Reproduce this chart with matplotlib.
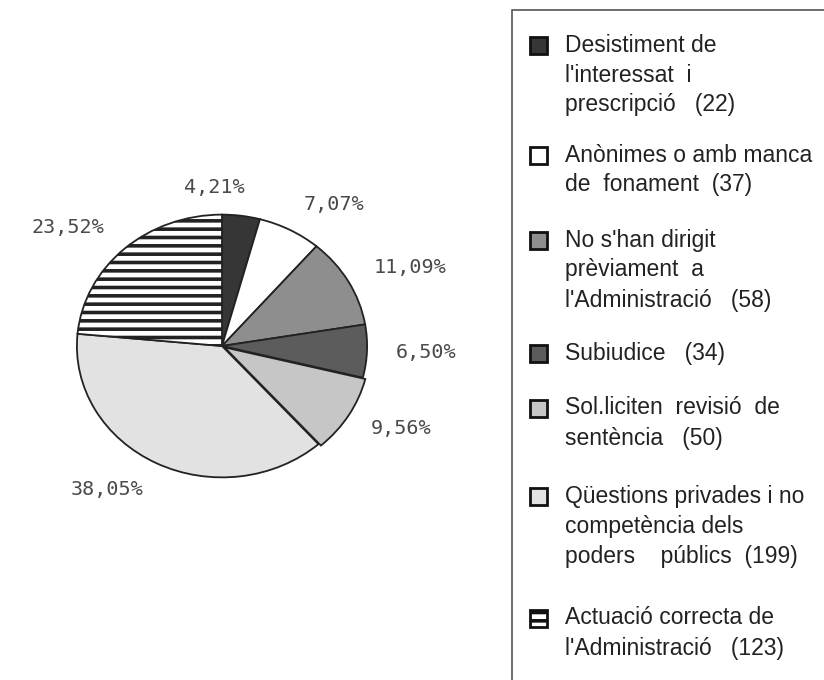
import numpy as np
import matplotlib.pyplot as plt
from matplotlib.patches import Rectangle

plt.rcParams['font.family'] = ['Liberation Sans', 'DejaVu Sans']
plt.rcParams['hatch.linewidth'] = 2.6
plt.rcParams['hatch.color'] = '#1a1a1a'

# shares of the pie (percent), clockwise from the top
shares = [4.21, 7.07, 11.09, 6.50, 9.56, 38.05, 23.52]
share_labels = ["4,21%", "7,07%", "11,09%", "6,50%", "9,56%", "38,05%", "23,52%"]
legend_lines = [
    ["Desistiment de", "l'interessat  i", "prescripció   (22)"],
    ["Anònimes o amb manca", "de  fonament  (37)"],
    ["No s'han dirigit", "prèviament  a", "l'Administració   (58)"],
    ["Subiudice   (34)"],
    ["Sol.liciten  revisió  de", "sentència   (50)"],
    ["Qüestions privades i no", "competència dels", "poders    públics  (199)"],
    ["Actuació correcta de", "l'Administració   (123)"],
]

faces = ['#363636', 'white', '#8e8e8e', '#5c5c5c', '#c6c6c6', '#e2e2e2', 'white']
hatches = [None, None, None, None, None, None, '--']

W, H = 824, 680
fig = plt.figure(figsize=(W / 100, H / 100), dpi=100)

# pie is a bit wider than tall in the scan
cx, cy, rx, ry = 222, 346, 148, 134
ax = fig.add_axes([(cx - rx) / W, 1 - (cy + ry) / H, 2 * rx / W, 2 * ry / H])
wedges, _ = ax.pie(shares, startangle=90, counterclock=False, colors=faces,
                   explode=[0, 0, 0, 0, 0.02, 0, 0],
                   wedgeprops=dict(edgecolor='#222222', linewidth=1.3))
for w, h in zip(wedges, hatches):
    if h:
        w.set_hatch(h)
ax.set_xlim(-1.02, 1.02)
ax.set_ylim(-1.02, 1.02)
ax.set_aspect('auto')
ax.axis('off')

# percentage labels around the pie
cum = np.cumsum([0] + shares[:-1])
for s, c, lab in zip(shares, cum, share_labels):
    ang = np.deg2rad(90 - (c + s / 2) * 3.6)
    x, y = 1.2 * np.cos(ang), 1.22 * np.sin(ang)
    ha = 'left' if np.cos(ang) > 0.3 else 'right'
    ax.text(x, y, lab, ha=ha, va='center', fontsize=14.5, color='#4a4a4a',
            family=['DejaVu Sans Mono'], clip_on=False)

# legend box, running off the right and bottom edges
fig.patches.append(Rectangle((512 / W, -0.05), 0.5, 1 - 10 / H + 0.05,
                             transform=fig.transFigure, fill=False,
                             edgecolor='#555555', linewidth=1.2))

item_tops = [45, 155, 240, 353, 408, 496, 618]
line_step = 30
for top, lines, fc, h in zip(item_tops, legend_lines, faces, hatches):
    sq = Rectangle((530 / W, 1 - (top + 9) / H), 17 / W, 17 / H,
                   transform=fig.transFigure, facecolor=fc, hatch=h,
                   edgecolor='#111111', linewidth=2)
    fig.patches.append(sq)
    for k, txt in enumerate(lines):
        fig.text(565 / W, 1 - (top + k * line_step) / H, txt, ha='left',
                 va='center', fontsize=16.5, color='#222222')

fig.savefig('out.png', dpi=100)
